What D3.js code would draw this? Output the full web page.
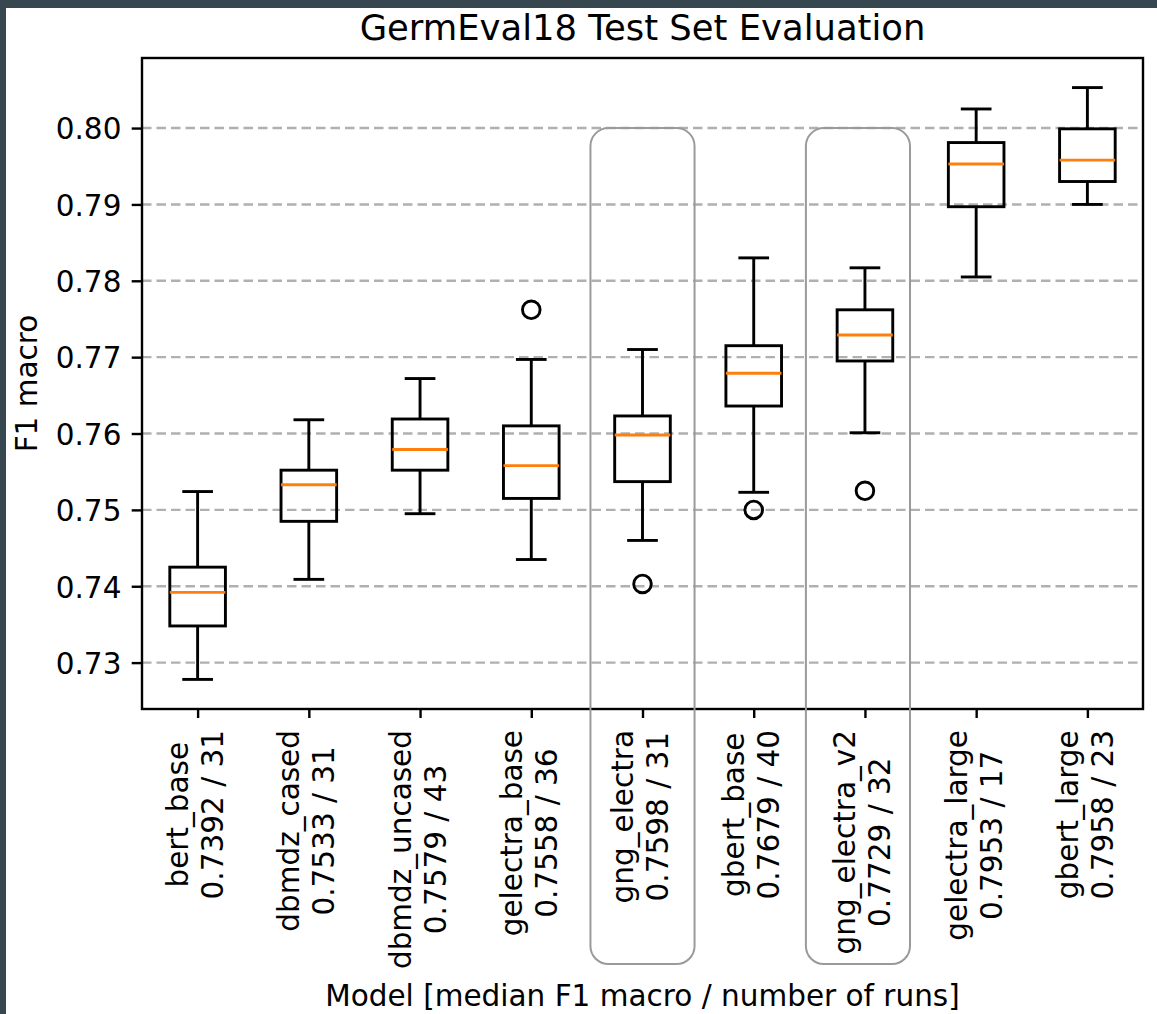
<!DOCTYPE html>
<html>
<head>
<meta charset="utf-8">
<script src="https://cdn.jsdelivr.net/npm/d3@7"></script>
<style>
  html, body { margin: 0; padding: 0; background: #ffffff; }
  svg { display: block; font-family: "DejaVu Sans", sans-serif; }
</style>
</head>
<body>
<svg id="chart" width="1157" height="1014"></svg>
<script>
// ---- data ----
const categories   = ["bert_base", "dbmdz_cased", "dbmdz_uncased", "gelectra_base", "gng_electra",
                      "gbert_base", "gng_electra_v2", "gelectra_large", "gbert_large"];
const runs         = [31, 31, 43, 36, 31, 40, 32, 17, 23];
const whiskerLow   = [0.7278, 0.7409, 0.7495, 0.7435, 0.7460, 0.7523, 0.7601, 0.7805, 0.7900];
const quartile1    = [0.7348, 0.7485, 0.7552, 0.7515, 0.7537, 0.7636, 0.7695, 0.7897, 0.7930];
const medians      = [0.7392, 0.7533, 0.7579, 0.7558, 0.7598, 0.7679, 0.7729, 0.7953, 0.7958];
const quartile3    = [0.7425, 0.7552, 0.7619, 0.7610, 0.7623, 0.7715, 0.7762, 0.7981, 0.7999];
const whiskerHigh  = [0.7524, 0.7618, 0.7672, 0.7697, 0.7710, 0.7830, 0.7817, 0.8025, 0.8053];
const outliers     = [[], [], [], [0.7762], [0.7403], [0.7500], [0.7525], [], []];
const yTicks       = [0.73, 0.74, 0.75, 0.76, 0.77, 0.78, 0.79, 0.80];
const highlighted  = ["gng_electra", "gng_electra_v2"];
const titleText    = "GermEval18 Test Set Evaluation";
const xLabelText   = "Model [median F1 macro / number of runs]";
const yLabelText   = "F1 macro";

// ---- layout ----
const W = 1157, H = 1014;
const plot = { left: 142, right: 1143, top: 58, bottom: 709 };
const tickFont = 29.5, titleFont = 35.4;
const tickLen = 10.3;
const highlightShift = [0, -7];   // hand-placed annotation boxes in the original

const svg = d3.select("#chart");

// dark frame strips of the screenshot
svg.append("rect").attr("x", 0).attr("y", 0).attr("width", W).attr("height", 8).attr("fill", "#37474f");
svg.append("rect").attr("x", 0).attr("y", 0).attr("width", 6).attr("height", H).attr("fill", "#37474f");

// scales (matplotlib auto limits: 5% margin)
const dataMin = d3.min(whiskerLow.concat(outliers.flat()));
const dataMax = d3.max(whiskerHigh.concat(outliers.flat()));
const margin = (dataMax - dataMin) * 0.05;
const y = d3.scaleLinear().domain([dataMin - margin, dataMax + margin]).range([plot.bottom, plot.top]);
const x = d3.scalePoint().domain(categories).range([plot.left, plot.right]).padding(0.5);
const step = x.step();
const boxW = step * 0.5;
const capW = boxW * 0.5;

// grid lines
svg.append("g").selectAll("line").data(yTicks).join("line")
  .attr("x1", plot.left).attr("x2", plot.right)
  .attr("y1", d => y(d)).attr("y2", d => y(d))
  .attr("stroke", "#b0b0b0").attr("stroke-width", 2.4)
  .attr("stroke-dasharray", "9.5,5");

// boxes
const rows = categories.map((c, i) => ({
  c, i, wl: whiskerLow[i], q1: quartile1[i], med: medians[i], q3: quartile3[i], wh: whiskerHigh[i], out: outliers[i]
}));
const g = svg.append("g").selectAll("g").data(rows).join("g");
const lw = 2.9;
g.append("line").attr("x1", d => x(d.c)).attr("x2", d => x(d.c))
  .attr("y1", d => y(d.q1)).attr("y2", d => y(d.wl)).attr("stroke", "#000").attr("stroke-width", lw);
g.append("line").attr("x1", d => x(d.c)).attr("x2", d => x(d.c))
  .attr("y1", d => y(d.q3)).attr("y2", d => y(d.wh)).attr("stroke", "#000").attr("stroke-width", lw);
g.append("line").attr("x1", d => x(d.c) - capW / 2).attr("x2", d => x(d.c) + capW / 2)
  .attr("y1", d => y(d.wl)).attr("y2", d => y(d.wl)).attr("stroke", "#000").attr("stroke-width", lw)
  .attr("stroke-linecap", "square");
g.append("line").attr("x1", d => x(d.c) - capW / 2).attr("x2", d => x(d.c) + capW / 2)
  .attr("y1", d => y(d.wh)).attr("y2", d => y(d.wh)).attr("stroke", "#000").attr("stroke-width", lw)
  .attr("stroke-linecap", "square");
g.append("rect").attr("x", d => x(d.c) - boxW / 2).attr("width", boxW)
  .attr("y", d => y(d.q3)).attr("height", d => y(d.q1) - y(d.q3))
  .attr("fill", "none").attr("stroke", "#000").attr("stroke-width", lw);
g.append("line").attr("x1", d => x(d.c) - boxW / 2).attr("x2", d => x(d.c) + boxW / 2)
  .attr("y1", d => y(d.med)).attr("y2", d => y(d.med)).attr("stroke", "#ff7f0e").attr("stroke-width", lw);
g.selectAll("circle").data(d => d.out.map(v => ({ c: d.c, v }))).join("circle")
  .attr("cx", d => x(d.c)).attr("cy", d => y(d.v)).attr("r", 8.8)
  .attr("fill", "none").attr("stroke", "#000").attr("stroke-width", 2.9);

// axes
const yAxis = d3.axisLeft(y).tickValues(yTicks).tickSize(tickLen).tickPadding(10.3).tickFormat(d3.format(".2f"));
const yg = svg.append("g").attr("transform", `translate(${plot.left},0)`).call(yAxis);
yg.select(".domain").remove();
yg.selectAll(".tick line").attr("stroke", "#000").attr("stroke-width", 2.4);
yg.selectAll(".tick text").attr("font-size", tickFont).attr("fill", "#000")
  .attr("font-family", "DejaVu Sans").attr("dy", "0.3645em");

const xAxis = d3.axisBottom(x).tickSize(9).tickFormat("");
const xg = svg.append("g").attr("transform", `translate(0,${plot.bottom})`).call(xAxis);
xg.select(".domain").remove();
xg.selectAll(".tick line").attr("stroke", "#000").attr("stroke-width", 2.4);

// frame
svg.append("rect").attr("x", plot.left).attr("y", plot.top)
  .attr("width", plot.right - plot.left).attr("height", plot.bottom - plot.top)
  .attr("fill", "none").attr("stroke", "#000").attr("stroke-width", 2.4);

// x tick labels (rotated, two centred lines)
const labelTop = 730;
const fmt4 = d3.format(".4f");
const lab = svg.append("g").attr("font-size", tickFont).attr("fill", "#000");
categories.forEach((c, i) => {
  const lines = [c, `${fmt4(medians[i])} / ${runs[i]}`];
  const t = lab.append("text").attr("text-anchor", "middle");
  const spans = lines.map((s, k) => t.append("tspan").attr("x", 0).attr("y", k === 0 ? -9.5 : 25.5).text(s));
  const maxW = d3.max(spans, s => s.node().getComputedTextLength());
  t.attr("transform", `translate(${x(c)},${labelTop + maxW / 2}) rotate(-90)`);
});

// highlight rounded rectangles
svg.append("g").selectAll("rect").data(highlighted).join("rect")
  .attr("x", (d, i) => x(d) - step * 0.468 + highlightShift[i]).attr("width", step * 0.936)
  .attr("y", y(0.80)).attr("height", 964 - y(0.80))
  .attr("rx", 18).attr("ry", 18)
  .attr("fill", "none").attr("stroke", "#9a9a9a").attr("stroke-width", 2);

// title and axis labels
svg.append("text").attr("x", (plot.left + plot.right) / 2).attr("y", 39.5)
  .attr("text-anchor", "middle").attr("font-size", titleFont).attr("fill", "#000").text(titleText);
svg.append("text").attr("x", (plot.left + plot.right) / 2).attr("y", 1006)
  .attr("text-anchor", "middle").attr("font-size", tickFont).attr("fill", "#000").text(xLabelText);
svg.append("text").attr("transform", `translate(37,${(plot.top + plot.bottom) / 2}) rotate(-90)`)
  .attr("text-anchor", "middle").attr("font-size", tickFont).attr("fill", "#000").text(yLabelText);
</script>
</body>
</html>
